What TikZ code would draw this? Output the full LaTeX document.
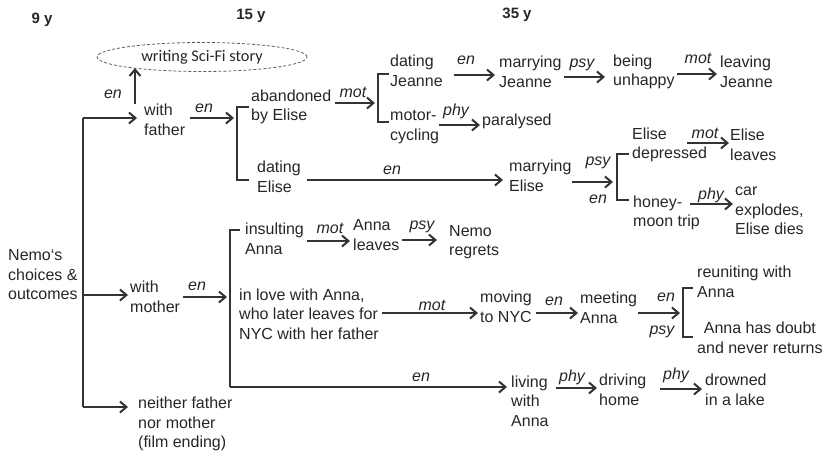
\documentclass[tikz,border=0pt]{standalone}
\usepackage{fontspec}
\setmainfont{Liberation Sans}
\newfontfamily\calfont{Carlito}
\usetikzlibrary{arrows.meta,calc,shapes.geometric}
\definecolor{textc}{HTML}{262626}
\definecolor{linec}{HTML}{333333}
\begin{document}
\begin{tikzpicture}[x=1pt,y=-1pt,
  txt/.style={font=\fontsize{16}{19.5}\selectfont, inner sep=0pt, align=left, text=textc, anchor=west},
  lbl/.style={font=\fontsize{16}{19}\selectfont\itshape, inner sep=0pt, text=textc},
  hdr/.style={font=\fontsize{15}{18}\selectfont\bfseries, inner sep=0pt, text=textc},
  ln/.style={draw=linec, line width=1.4pt},
  arr/.style={draw=linec, line width=1.4pt, -{Straight Barb[length=6.5pt,width=11pt,line width=2pt]}},
  scif/.style={ellipse, draw=linec!80, dashed, line width=0.8pt, dash pattern=on 3pt off 2pt,
     minimum width=210pt, minimum height=29pt, inner sep=0pt, font=\calfont\fontsize{16.3}{19}\selectfont, text=textc}
]
\useasboundingbox (0,0) rectangle (826,456);

% headers
\node[hdr] (h9) at (42,20) {9 y};
\node[hdr] (h15) at (251,16) {15 y};
\node[hdr] (h35) at (517,15) {35 y};

% nodes
\node[scif] (sci) at (202,57) {writing Sci-Fi story};
\node[txt] (nemo) at (8,275) {Nemo‘s\\choices \&\\outcomes};
\node[txt] (father) at (144,120) {with\\father};
\node[txt] (mother) at (130,297) {with\\mother};
\node[txt] (neither) at (138,424) {neither father\\nor mother\\(film ending)};
\node[txt] (aband) at (251,107) {abandoned\\by Elise};
\node[txt] (datE) at (257,177) {dating\\Elise};
\node[txt] (datJ) at (390,71) {dating\\Jeanne};
\node[txt] (motor) at (390,127) {motor-\\cycling};
\node[txt] (marJ) at (499,72) {marrying\\Jeanne};
\node[txt] (unh) at (613,72) {being\\unhappy};
\node[txt] (leaveJ) at (720,72) {leaving\\Jeanne};
\node[txt] (para) at (482,121) {paralysed};
\node[txt] (marE) at (509,176) {marrying\\Elise};
\node[txt] (depr) at (632,145) {Elise\\depressed};
\node[txt] (Eleaves) at (730,145) {Elise\\leaves};
\node[txt] (honey) at (633,213) {honey-\\moon trip};
\node[txt] (car) at (735,211) {car\\explodes,\\Elise dies};
\node[txt] (insult) at (245,239) {insulting\\Anna};
\node[txt] (Aleaves) at (353,235) {Anna\\leaves};
\node[txt] (regret) at (449,242) {Nemo\\regrets};
\node[txt] (love) at (239,314) {in love with Anna,\\who later leaves for\\NYC with her father};
\node[txt] (moving) at (480,307) {moving\\to NYC};
\node[txt] (meet) at (580,308) {meeting\\Anna};
\node[txt] (reunite) at (697,282) {reuniting with\\Anna};
\node[txt, align=center] (doubt) at (697,338) {Anna has doubt\\and never returns};
\node[txt] (living) at (511,401) {living\\with\\Anna};
\node[txt] (driving) at (599,390) {driving\\home};
\node[txt] (drown) at (705,390) {drowned\\in a lake};

% bracket coordinates
\coordinate (nT) at (83,118);
\coordinate (nM) at (83,295);
\coordinate (nB) at (83,407);
\coordinate (b1) at (237,118);
\coordinate (b2) at (378,103);
\coordinate (b3) at (617,182);
\coordinate (b4) at (683,313);
\coordinate (b5) at (230,297);
\coordinate (b5b) at (230,387);

% brackets
\draw[ln] (nT) -- (nB);
\draw[ln] (249,107) -| (237,180) -- (249,180);
\draw[ln] (389,74) -| (378,122) -- (389,122);
\draw[ln] (629,154) -| (617,200) -- (629,200);
\draw[ln] (693,288) -| (683,337) -- (693,337);
\draw[ln] (240,230) -| (b5b);

% arrows
\draw[arr, shorten >=7pt] (nT) -- (father.west |- nT);
\draw[arr, shorten >=2pt] (nM) -- (mother.west |- nM);
\draw[arr, shorten >=10pt] (nB) -- (neither.west |- nB);
\draw[arr] ($(father.north west)+(-9,0)$) -- ($(sci.center)+(-67,11)$);
\draw[arr, shorten <=5pt, shorten >=3pt] (father.east |- b1) -- (b1);
\draw[arr, shorten <=4pt, shorten >=3pt] (aband.east |- b2) -- (b2);
\draw[arr, shorten <=11pt, shorten >=4pt] (datJ.east |- 0,75) -- (marJ.west |- 0,75);
\draw[arr, shorten <=2pt, shorten >=8pt] (marJ.east |- 0,77) -- (unh.west |- 0,77);
\draw[arr, shorten <=2pt, shorten >=3pt] (unh.east |- 0,74) -- (leaveJ.west |- 0,74);
\draw[arr, shorten <=0pt, shorten >=2pt] (motor.east |- 0,125) -- (para.west |- 0,125);
\draw[arr, shorten <=6pt, shorten >=6pt] (datE.east |- 0,180) -- (marE.west |- 0,180);
\draw[arr, shorten <=0pt, shorten >=4pt] (marE.east |- b3) -- (b3);
\draw[arr, shorten <=-20pt, shorten >=1pt] (depr.east |- 0,143) -- (Eleaves.west |- 0,143);
\draw[arr, shorten <=-10pt, shorten >=2pt] (honey.east |- 0,204) -- (car.west |- 0,204);
\draw[arr, shorten <=3pt, shorten >=3pt] (mother.east |- b5) -- (b5);
\draw[arr, shorten <=3pt, shorten >=3pt] (insult.east |- 0,241) -- (Aleaves.west |- 0,241);
\draw[arr, shorten <=2pt, shorten >=12pt] (Aleaves.east |- 0,240) -- (regret.west |- 0,240);
\draw[arr, shorten <=3pt, shorten >=2pt] (love.east |- 0,313) -- (moving.west |- 0,313);
\draw[arr, shorten <=4pt, shorten >=2pt] (moving.east |- 0,313) -- (meet.west |- 0,313);
\draw[arr, shorten <=1pt, shorten >=3pt] (meet.east |- b4) -- (b4);
\draw[arr, shorten >=4pt] (b5b) -- (living.west |- b5b);
\draw[arr, shorten <=7pt, shorten >=2pt] (living.east |- 0,388) -- (driving.west |- 0,388);
\draw[arr, shorten <=13pt, shorten >=3pt] (driving.east |- 0,389) -- (drown.west |- 0,389);

% labels
\node[lbl] (l1) at (113,94) {en};
\node[lbl] (l2) at (204,108) {en};
\node[lbl] (l3) at (353,92) {mot};
\node[lbl] (l4) at (466,60) {en};
\node[lbl] (l5) at (582,65) {psy};
\node[lbl] (l6) at (698,58) {mot};
\node[lbl] (l7) at (456,111) {phy};
\node[lbl] (l8) at (392,170) {en};
\node[lbl] (l9) at (598,163) {psy};
\node[lbl] (l10) at (598,199) {en};
\node[lbl] (l11) at (705,133) {mot};
\node[lbl] (l12) at (711,195) {phy};
\node[lbl] (l13) at (197,286) {en};
\node[lbl] (l14) at (330,228) {mot};
\node[lbl] (l15) at (422,227) {psy};
\node[lbl] (l16) at (432,305) {mot};
\node[lbl] (l17) at (554,301) {en};
\node[lbl] (l18) at (666,297) {en};
\node[lbl] (l19) at (662,332) {psy};
\node[lbl] (l20) at (421,377) {en};
\node[lbl] (l21) at (572,377) {phy};
\node[lbl] (l22) at (676,375) {phy};
\end{tikzpicture}
\end{document}
